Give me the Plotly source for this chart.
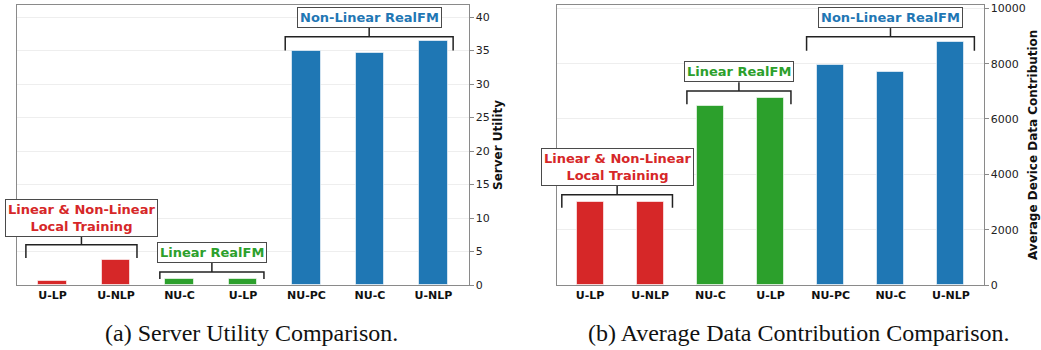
import plotly.graph_objects as go

# ---------------- data ----------------
categories = ["U-LP", "U-NLP", "NU-C", "U-LP", "NU-PC", "NU-C", "U-NLP"]
bar_group = [0, 0, 1, 1, 2, 2, 2]
server_utility = [0.6, 3.7, 0.9, 0.9, 35.0, 34.6, 36.4]
data_contribution = [3000, 3000, 6480, 6750, 7960, 7715, 8800]
group_names = ["Linear & Non-Linear<br>Local Training", "Linear RealFM", "Non-Linear RealFM"]
utility_ticks = [0, 5, 10, 15, 20, 25, 30, 35, 40]
contribution_ticks = [0, 2000, 4000, 6000, 8000, 10000]
y_titles = ["Server Utility", "Average Device Data Contribution"]
captions = ["(a) Server Utility Comparison.", "(b) Average Data Contribution Comparison."]

# ---------------- styles / layout ----------------
group_colors = ["#d62728", "#2ca02c", "#1f77b4"]
FONT = "DejaVu Sans"
W, H = 1041, 350

# bracket geometry per panel (data units): x0, x1, bar-line y, tick-end y, box-bottom y
brackets = [
    [(-0.42, 1.33, 6.0, 4.03, 7.2), (1.69, 3.33, 1.94, 0.90, 3.28), (3.665, 6.31, 37.06, 35.0, 38.36)],
    [(-0.47, 1.37, 3264, 2793, 3590), (1.61, 3.34, 7011, 6529, 7327), (3.60, 6.39, 8970, 8462, 9285)],
]

def px_x(p):
    return p / W

def px_y(p):
    return 1 - p / H

fig = go.Figure()
series = [server_utility, data_contribution]
xs = list(range(len(categories)))
for k, vals in enumerate(series):
    fig.add_trace(go.Bar(
        x=xs, y=vals, width=0.45,
        marker=dict(color=[group_colors[g] for g in bar_group],
                    line=dict(color="rgba(255,255,255,0.6)", width=1)),
        xaxis="x" if k == 0 else "x2", yaxis="y" if k == 0 else "y2",
        showlegend=False,
    ))

axis_common_x = dict(
    tickmode="array", tickvals=xs, ticktext=categories,
    tickfont=dict(family=FONT, size=11, color="#111", weight="bold"),
    showline=True, linecolor="#8a8a8a", linewidth=1.2, mirror=True,
    showgrid=False, zeroline=False, ticks="", automargin=False,
)
axis_common_y = dict(
    side="right", showline=True, linecolor="#8a8a8a", linewidth=1.2, mirror=True,
    showgrid=True, gridcolor="#eeeeee", gridwidth=1, zeroline=False,
    ticks="outside", ticklen=3.5, tickcolor="#8a8a8a",
    tickfont=dict(family=FONT, size=11, color="#222"), tickmode="array",
    automargin=False,
)

ydom = [px_y(285), px_y(5)]
fig.update_layout(
    width=W, height=H,
    margin=dict(l=0, r=0, t=0, b=0),
    paper_bgcolor="white", plot_bgcolor="white",
    bargap=0,
    xaxis=dict(axis_common_x, domain=[px_x(17), px_x(469)], range=[-0.56, 6.56], anchor="y"),
    yaxis=dict(axis_common_y, domain=ydom, range=[0, 41.8], tickvals=utility_ticks,
               ticktext=[str(v) for v in utility_ticks], anchor="x"),
    xaxis2=dict(axis_common_x, domain=[px_x(557), px_x(984)], range=[-0.55, 6.55], anchor="y2"),
    yaxis2=dict(axis_common_y, domain=ydom, range=[0, 10120], tickvals=contribution_ticks,
                ticktext=[str(v) for v in contribution_ticks], anchor="x2"),
)

shapes = []
annotations = []
for k in range(2):
    xr = "x" if k == 0 else "x2"
    yr = "y" if k == 0 else "y2"
    for g, (x0, x1, yb, yt, ybox) in enumerate(brackets[k]):
        line = dict(color="#222222", width=1.5)
        xm = (x0 + x1) / 2
        shapes.append(dict(type="path", xref=xr, yref=yr,
                           path=f"M {x0} {yt} L {x0} {yb} L {x1} {yb} L {x1} {yt}",
                           line=line))
        shapes.append(dict(type="line", xref=xr, yref=yr, x0=xm, x1=xm, y0=yb, y1=ybox, line=line))
        annotations.append(dict(
            xref=xr, yref=yr, x=xm, y=ybox, xanchor="center", yanchor="bottom",
            text=group_names[g], showarrow=False,
            font=dict(family=FONT, size=13, color=group_colors[g], weight="bold"),
            bgcolor="white", bordercolor="#4a4a4a", borderwidth=1, borderpad=2,
        ))
    # y-axis title (right side)
    annotations.append(dict(
        xref="paper", yref="paper", x=px_x(498 if k == 0 else 1033), y=px_y(145),
        xanchor="center", yanchor="middle", textangle=-90, showarrow=False,
        text=y_titles[k], font=dict(family=FONT, size=12, color="#111", weight="bold"),
    ))
    # caption
    annotations.append(dict(
        xref="paper", yref="paper", x=px_x(251 if k == 0 else 798), y=px_y(333),
        xanchor="center", yanchor="middle", showarrow=False,
        text=captions[k], font=dict(family="Liberation Serif", size=24, color="#111"),
    ))

fig.update_layout(shapes=shapes, annotations=annotations)
fig.write_html(
    "out.html",
    config={"displayModeBar": False},
    post_script="document.body.style.margin='0px';document.body.style.overflow='hidden';",
)
